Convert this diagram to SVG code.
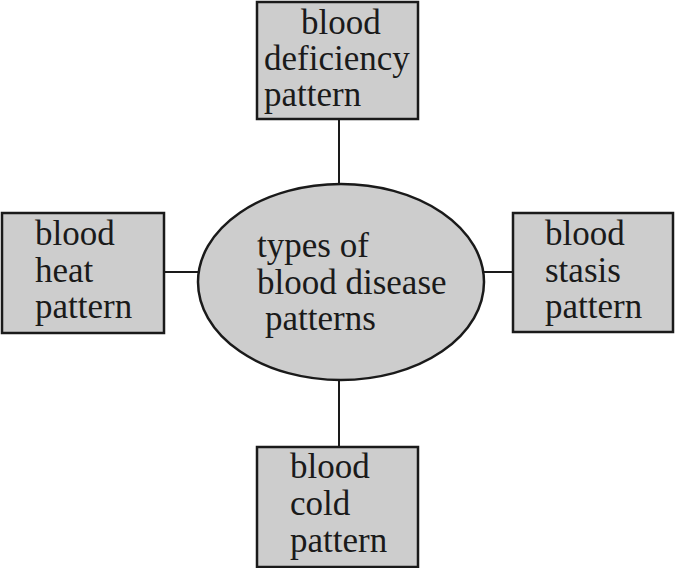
<svg xmlns="http://www.w3.org/2000/svg" width="676" height="568" viewBox="0 0 676 568">
<style>
.box{fill:#cdcdcd;stroke:#1a1a1a;stroke-width:2.5}
.lbl{font-family:'Liberation Serif','Times New Roman','DejaVu Serif',serif;font-size:35px;fill:#1a1a1a}
.conn line{stroke:#1a1a1a;stroke-width:2}
</style>
<rect width="676" height="568" fill="#ffffff"/>
<g id="connectors" class="conn">
<line x1="339" y1="119" x2="339" y2="186"/>
<line x1="164" y1="272" x2="198" y2="272"/>
<line x1="484" y1="272" x2="514" y2="272"/>
<line x1="339" y1="380" x2="339" y2="448"/>
</g>
<g id="center">
<ellipse class="box" cx="341" cy="282" rx="143" ry="98"/>
<text class="lbl" x="257" y="257">types of</text>
<text class="lbl" x="257" y="294">blood disease</text>
<text class="lbl" x="265" y="330">patterns</text>
</g>
<g id="deficiency">
<rect class="box" x="257" y="2" width="161" height="117"/>
<text class="lbl" x="301" y="34">blood</text>
<text class="lbl" x="264" y="70">deficiency</text>
<text class="lbl" x="264" y="106">pattern</text>
</g>
<g id="heat">
<rect class="box" x="2" y="213" width="162" height="120"/>
<text class="lbl" x="35" y="245">blood</text>
<text class="lbl" x="35" y="282">heat</text>
<text class="lbl" x="35" y="318">pattern</text>
</g>
<g id="stasis">
<rect class="box" x="513" y="213" width="160" height="119"/>
<text class="lbl" x="545" y="245">blood</text>
<text class="lbl" x="545" y="282">stasis</text>
<text class="lbl" x="545" y="318">pattern</text>
</g>
<g id="cold">
<rect class="box" x="257" y="447" width="161" height="120"/>
<text class="lbl" x="290" y="478">blood</text>
<text class="lbl" x="290" y="515">cold</text>
<text class="lbl" x="290" y="552">pattern</text>
</g>
</svg>
